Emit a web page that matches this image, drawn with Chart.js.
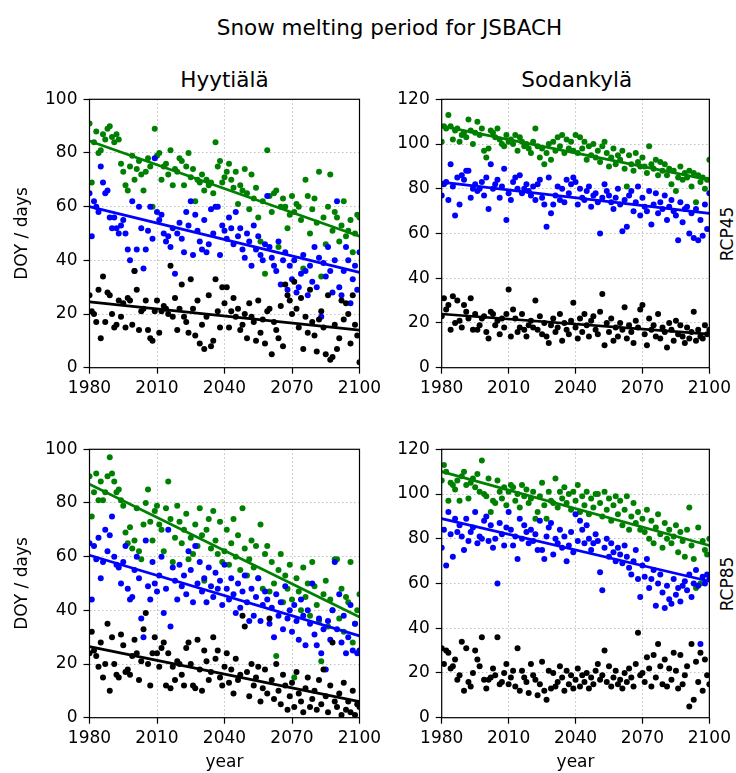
<!DOCTYPE html>
<html>
<head>
<meta charset="utf-8">
<script src="https://cdn.jsdelivr.net/npm/chart.js@4"></script>
<style>
  html, body { margin: 0; padding: 0; background: #fff; }
  body { width: 736px; height: 773px; position: relative; overflow: hidden; font-family: 'DejaVu Sans', sans-serif; color: #000; }
  canvas { position: absolute; }
  .txt { position: absolute; white-space: nowrap; line-height: 1; }
  .rot { transform: translate(-50%, -50%) rotate(-90deg); font-size: 17px; }
</style>
</head>
<body>
<div class="txt" style="left:389.5px; top:17px; font-size:21.5px; transform:translateX(-50%)">Snow melting period for JSBACH</div>
<div class="txt" style="left:224.5px; top:69px; font-size:21.5px; transform:translateX(-50%)">Hyytiälä</div>
<div class="txt" style="left:576.7px; top:69px; font-size:21.5px; transform:translateX(-50%)">Sodankylä</div>
<div class="txt rot" style="left:727px; top:233.5px">RCP45</div>
<div class="txt rot" style="left:727px; top:583.5px">RCP85</div>

<canvas id="c_hyy45" style="left:0px; top:60px" width="395" height="340"></canvas>
<canvas id="c_sod45" style="left:380px; top:60px" width="356" height="340"></canvas>
<canvas id="c_hyy85" style="left:0px; top:410px" width="395" height="363"></canvas>
<canvas id="c_sod85" style="left:380px; top:410px" width="356" height="363"></canvas>

<script>
// one value per year, 1980..2100
const firstYear = 1980;
const xTicks = [1980, 2010, 2040, 2070, 2100];
const trendYears = [1980, 2100];

// Hyytiälä RCP45
const hyy45Green = [
  91, 69, 84, 88, 80, 81, 87, 85, 89, 90,
  86, 84, 87, 85, 76, 73, 68, 66, 75, 79,
  70, 74, 77, 72, 66, 73, 78, 75, 60, 89,
  79, 80, 70, 75, 76, 72, 81, 68, 74, 73,
  78, 77, 68, 75, 80, 71, 74, 62, 70, 69,
  72, 66, 70, 68, 69, 65, 84, 75, 77, 69,
  71, 73, 76, 70, 67, 73, 61, 68, 66, 74,
  65, 59, 72, 63, 67, 56, 47, 62, 35, 81,
  64, 58, 65, 66, 45, 60, 63, 60, 52, 57,
  64, 58, 61, 60, 55, 37, 70, 64, 50, 59,
  63, 54, 73, 34, 56, 46, 60, 72, 51, 58,
  56, 47, 53, 62, 49, 51, 55, 43, 50, 57,
  56];
const hyy45Blue = [
  65, 49, 62, 60, 58, 75, 69, 65, 66, 56,
  52, 56, 52, 50, 53, 55, 50, 44, 40, 62,
  36, 44, 60, 52, 37, 44, 51, 60, 48, 78,
  58, 55, 57, 50, 47, 49, 45, 52, 35, 50,
  54, 48, 43, 58, 53, 62, 42, 57, 51, 47,
  44, 55, 43, 46, 59, 50, 60, 60, 42, 53,
  51, 48, 56, 52, 46, 58, 49, 52, 44, 41,
  50, 47, 38, 53, 44, 49, 42, 40, 46, 64,
  45, 41, 38, 36, 47, 31, 40, 43, 29, 38,
  33, 40, 28, 30, 35, 42, 36, 27, 38, 32,
  45, 30, 41, 19, 39, 34, 45, 36, 28, 40,
  62, 30, 27, 36, 45, 40, 24, 33, 38, 29,
  43];
const hyy45Black = [
  27, 21, 20, 17, 29, 11, 34, 17, 28, 27,
  20, 15, 16, 25, 19, 24, 15, 26, 25, 16,
  36, 29, 14, 21, 22, 25, 14, 11, 10, 21,
  25, 13, 21, 23, 22, 20, 38, 19, 26, 14,
  22, 31, 19, 17, 13, 33, 22, 12, 25, 9,
  16, 7, 19, 27, 8, 10, 33, 21, 15, 30,
  24, 30, 15, 21, 26, 19, 22, 14, 16, 20,
  11, 24, 19, 17, 10, 25, 13, 18, 9, 21,
  22, 5, 17, 14, 11, 23, 8, 31, 27, 25,
  20, 32, 22, 15, 26, 7, 19, 13, 29, 17,
  12, 6, 18, 21, 15, 5, 27, 3, 4, 16,
  7, 11, 25, 18, 24, 20, 9, 27, 16, 12,
  2];
const hyy45GreenTrend = [84.5, 49];
const hyy45BlueTrend = [60, 35.5];
const hyy45BlackTrend = [24.5, 14];

// Sodankylä RCP45
const sod45Green = [
  101, 108, 107, 113, 108, 102, 106, 107, 101, 104,
  105, 103, 111, 106, 100, 105, 110, 104, 107, 97,
  94, 98, 106, 105, 103, 107, 102, 100, 99, 104,
  101, 102, 100, 104, 97, 103, 101, 99, 100, 98,
  96, 101, 107, 99, 94, 98, 91, 96, 100, 93,
  101, 97, 103, 99, 104, 96, 102, 98, 101, 97,
  104, 96, 103, 98, 101, 93, 99, 95, 100, 94,
  97, 92, 99, 101, 96, 90, 94, 98, 91, 95,
  93, 97, 89, 81, 95, 91, 88, 96, 92, 90,
  94, 90, 87, 99, 91, 89, 93, 86, 92, 88,
  91, 86, 89, 82, 88, 79, 85, 90, 84, 87,
  85, 88, 81, 87, 74, 86, 83, 85, 80, 84,
  93];
const sod45Blue = [
  77, 82, 83, 75, 91, 81, 68, 85, 73, 86,
  84, 88, 88, 76, 80, 82, 79, 80, 83, 77,
  85, 71, 91, 80, 82, 84, 76, 81, 89, 66,
  78, 75, 83, 85, 80, 86, 78, 80, 82, 79,
  77, 81, 75, 82, 84, 76, 73, 63, 85, 69,
  73, 77, 81, 75, 80, 74, 84, 78, 82, 85,
  83, 73, 80, 76, 75, 79, 81, 72, 77, 78,
  74, 60, 76, 82, 79, 77, 74, 71, 76, 80,
  73, 61, 75, 63, 77, 79, 70, 74, 81, 68,
  76, 72, 70, 79, 64, 73, 78, 69, 74, 71,
  77, 66, 72, 75, 70, 68, 57, 74, 65, 71,
  72, 60, 69, 58, 71, 57, 66, 59, 73, 62,
  78];
const sod45Black = [
  23, 31, 26, 28, 17, 32, 20, 30, 21, 18,
  28, 25, 22, 31, 17, 24, 17, 19, 22, 23,
  16, 13, 25, 24, 19, 21, 15, 22, 18, 24,
  35, 14, 26, 22, 16, 18, 24, 17, 14, 19,
  21, 18, 30, 17, 23, 15, 20, 14, 11, 19,
  22, 16, 18, 24, 12, 20, 17, 15, 21, 29,
  18, 13, 22, 16, 24, 19, 14, 21, 23, 17,
  15, 25, 33, 10, 20, 16, 22, 12, 18, 14,
  20, 17, 27, 13, 19, 16, 11, 21, 18, 26,
  28, 15, 10, 22, 17, 19, 14, 24, 13, 18,
  16, 9, 20, 17, 12, 21, 15, 19, 14, 11,
  18, 13, 16, 25, 12, 17, 14, 13, 19, 15,
  17];
const sod45GreenTrend = [108, 84];
const sod45BlueTrend = [83, 69];
const sod45BlackTrend = [24, 15];

// Hyytiälä RCP85
const hyy85Green = [
  90, 75, 84, 91, 81, 88, 81, 84, 90, 97,
  91, 88, 84, 85, 81, 79, 69, 65, 71, 63,
  66, 78, 62, 59, 72, 80, 85, 73, 66, 77,
  79, 72, 70, 62, 78, 88, 74, 58, 67, 79,
  73, 65, 70, 76, 59, 67, 61, 72, 64, 78,
  68, 51, 70, 74, 63, 77, 66, 61, 73, 58,
  62, 70, 57, 65, 74, 60, 68, 55, 78, 63,
  53, 59, 66, 56, 64, 52, 72, 48, 61, 64,
  47, 58, 50, 23, 55, 61, 43, 53, 48, 57,
  44, 15, 52, 47, 40, 56, 45, 50, 38, 58,
  49, 42, 36, 21, 46, 51, 34, 44, 40, 59,
  59, 37, 48, 32, 45, 43, 58, 28, 35, 40,
  46];
const hyy85Blue = [
  65, 44, 64, 59, 67, 52, 58, 70, 62, 68,
  75, 60, 57, 56, 50, 58, 64, 48, 44, 45,
  55, 60, 52, 37, 30, 66, 49, 44, 58, 50,
  47, 53, 60, 39, 48, 70, 34, 56, 51, 44,
  57, 49, 53, 46, 62, 55, 43, 64, 50, 58,
  47, 52, 43, 56, 49, 45, 54, 48, 51, 42,
  57, 48, 44, 52, 46, 39, 50, 41, 47, 53,
  43, 36, 48, 38, 45, 52, 36, 42, 47, 44,
  35, 41, 30, 46, 38, 43, 33, 49, 37, 40,
  32, 42, 36, 29, 44, 38, 27, 40, 35, 50,
  31, 27, 37, 24, 33, 18, 36, 29, 40, 58,
  33, 46, 28, 38, 24, 30, 42, 25, 35, 24,
  25];
const hyy85Black = [
  24, 32, 25, 23, 19, 28, 15, 20, 35, 10,
  30, 20, 16, 15, 31, 27, 17, 18, 16, 23,
  29, 24, 14, 21, 33, 39, 20, 12, 24, 30,
  24, 19, 26, 28, 12, 24, 11, 19, 14, 21,
  20, 16, 12, 26, 28, 20, 12, 11, 29, 18,
  10, 25, 21, 14, 17, 30, 22, 25, 15, 12,
  19, 24, 13, 18, 9, 22, 14, 16, 38, 34,
  17, 8, 20, 12, 15, 19, 6, 11, 18, 9,
  37, 14, 7, 20, 10, 5, 16, 12, 3, 8,
  13, 4, 17, 9, 6, 2, 11, 15, 4, 7,
  10, 3, 14, 5, 18, 8, 2, 12, 28, 6,
  4, 9, 1, 13, 3, 6, 2, 10, 1, 5,
  4];
const hyy85GreenTrend = [87, 37.5];
const hyy85BlueTrend = [60.5, 30.5];
const hyy85BlackTrend = [26.5, 6];

// Sodankylä RCP85 (no trend line for the black series)
const sod85Green = [
  106, 113, 110, 97, 105, 104, 102, 106, 97, 108,
  110, 104, 98, 105, 107, 103, 109, 101, 115, 100,
  99, 107, 92, 97, 96, 106, 101, 98, 103, 95,
  101, 104, 103, 97, 100, 94, 104, 99, 102, 96,
  98, 101, 89, 92, 99, 105, 95, 89, 101, 97,
  96, 107, 94, 101, 98, 103, 96, 100, 93, 101,
  97, 104, 92, 99, 95, 101, 91, 98, 94, 100,
  100, 96, 90, 101, 93, 98, 88, 95, 99, 91,
  97, 86, 93, 99, 84, 90, 96, 87, 92, 84,
  89, 83, 93, 80, 88, 78, 85, 91, 82, 76,
  87, 80, 84, 78, 81, 86, 74, 83, 79, 72,
  84, 94, 77, 71, 58, 85, 60, 79, 75, 73,
  80];
const sod85Blue = [
  76, 84, 68, 92, 82, 72, 89, 83, 86, 81,
  75, 89, 79, 83, 85, 92, 78, 81, 80, 88,
  90, 79, 86, 76, 80, 60, 87, 82, 77, 85,
  92, 84, 77, 81, 71, 89, 80, 86, 83, 78,
  84, 79, 82, 75, 88, 75, 71, 81, 85, 87,
  73, 80, 78, 84, 76, 81, 70, 77, 83, 74,
  91, 79, 88, 84, 78, 86, 80, 75, 78, 82,
  79, 65, 57, 76, 80, 72, 78, 74, 70, 76,
  73, 69, 77, 72, 67, 64, 70, 75, 62, 54,
  68, 63, 71, 58, 62, 66, 50, 60, 64, 56,
  49, 59, 53, 51, 62, 55, 58, 52, 59, 61,
  57, 64, 54, 60, 66, 59, 33, 63, 60, 64,
  62];
const sod85Black = [
  31, 24, 30, 29, 22, 23, 26, 17, 19, 34,
  12, 31, 16, 14, 20, 30, 26, 23, 36, 17,
  13, 17, 18, 22, 19, 36, 15, 16, 20, 24,
  15, 18, 21, 14, 31, 12, 21, 18, 16, 11,
  24, 19, 17, 10, 15, 25, 12, 8, 21, 13,
  20, 14, 16, 23, 18, 12, 21, 15, 19, 13,
  17, 22, 14, 19, 16, 20, 13, 18, 15, 21,
  24, 17, 19, 30, 16, 23, 14, 18, 21, 15,
  17, 13, 20, 16, 22, 18, 14, 24, 38, 19,
  20, 16, 27, 22, 14, 28, 18, 33, 23, 15,
  26, 14, 22, 17, 29, 21, 13, 28, 15, 19,
  23, 5, 33, 8, 25, 16, 29, 12, 26, 19,
  15];
const sod85GreenTrend = [110, 77];
const sod85BlueTrend = [89, 61];

const GREEN = '#008000', BLUE = '#0000ff', BLACK = '#000000';
const FONT = 'DejaVu Sans';

function toPoints(vals) {
  return vals.map((v, i) => ({x: firstYear + i, y: v}));
}
function toTrend(ends) {
  return trendYears.map((yr, i) => ({x: yr, y: ends[i]}));
}

const framePlugin = {
  id: 'frame',
  afterDraw(chart) {
    const {ctx, chartArea: a} = chart;
    ctx.save();
    ctx.strokeStyle = '#000';
    ctx.lineWidth = 1.2;
    ctx.strokeRect(a.left, a.top, a.right - a.left, a.bottom - a.top);
    ctx.restore();
  }
};

function makePanel(id, p) {
  const datasets = [];
  const add = (vals, col, ord) => datasets.push({
    data: toPoints(vals), backgroundColor: col, borderColor: col,
    pointRadius: 3, pointBorderWidth: 0, showLine: false, order: ord
  });
  add(p.green, GREEN, 3);
  add(p.blue, BLUE, 2);
  add(p.black, BLACK, 1);
  const addTrend = (ends, col) => datasets.push({
    type: 'line', data: toTrend(ends), borderColor: col, borderWidth: 2.7,
    pointRadius: 0, fill: false, order: 0
  });
  if (p.gt) addTrend(p.gt, GREEN);
  if (p.bt) addTrend(p.bt, BLUE);
  if (p.kt) addTrend(p.kt, BLACK);

  new Chart(document.getElementById(id), {
    type: 'scatter',
    data: { datasets },
    options: {
      responsive: false,
      animation: false,
      layout: { padding: p.pad },
      plugins: { legend: {display: false}, tooltip: {enabled: false} },
      scales: {
        x: {
          type: 'linear', min: 1980, max: 2100,
          afterBuildTicks: s => { s.ticks = xTicks.map(v => ({value: v})); },
          afterFit: s => { s.height = p.xh; },
          grid: { color: '#b0b0b0', lineWidth: 0.8, tickColor: '#000', tickLength: 6, tickWidth: 1.2, tickBorderDash: [] },
          border: { display: false, dash: [1.5, 2.5] },
          ticks: { color: '#000', font: {family: FONT, size: 17}, padding: 5, maxRotation: 0, autoSkip: false, callback: v => String(v) },
          title: { display: !!p.xTitle, text: 'year', color: '#000', font: {family: FONT, size: 17}, padding: {top: 0, bottom: 0} }
        },
        y: {
          min: 0, max: p.ymax,
          afterFit: s => { s.width = p.yw; },
          grid: { color: '#b0b0b0', lineWidth: 0.8, tickColor: '#000', tickLength: 6, tickWidth: 1.2, tickBorderDash: [] },
          border: { display: false, dash: [1.5, 2.5] },
          ticks: { stepSize: 20, color: '#000', font: {family: FONT, size: 17}, padding: 6, callback: v => String(v) },
          title: { display: !!p.yTitle, text: 'DOY / days', color: '#000', font: {family: FONT, size: 17}, padding: {top: 12, bottom: 0} }
        }
      }
    },
    plugins: [framePlugin]
  });
}

makePanel('c_hyy45', {green: hyy45Green, blue: hyy45Blue, black: hyy45Black,
  gt: hyy45GreenTrend, bt: hyy45BlueTrend, kt: hyy45BlackTrend,
  ymax: 100, yw: 89.5, xh: 32.3, pad: {left: 0, right: 35.5, top: 39.3, bottom: 0}, yTitle: true});
makePanel('c_sod45', {green: sod45Green, blue: sod45Blue, black: sod45Black,
  gt: sod45GreenTrend, bt: sod45BlueTrend, kt: sod45BlackTrend,
  ymax: 120, yw: 61.7, xh: 32.3, pad: {left: 0, right: 24.3, top: 39.3, bottom: 0}});
makePanel('c_hyy85', {green: hyy85Green, blue: hyy85Blue, black: hyy85Black,
  gt: hyy85GreenTrend, bt: hyy85BlueTrend, kt: hyy85BlackTrend,
  ymax: 100, yw: 89.5, xh: 55.3, pad: {left: 0, right: 35.5, top: 39.3, bottom: 0}, yTitle: true, xTitle: true});
makePanel('c_sod85', {green: sod85Green, blue: sod85Blue, black: sod85Black,
  gt: sod85GreenTrend, bt: sod85BlueTrend,
  ymax: 120, yw: 61.7, xh: 55.3, pad: {left: 0, right: 24.3, top: 39.3, bottom: 0}, xTitle: true});
</script>
</body>
</html>
